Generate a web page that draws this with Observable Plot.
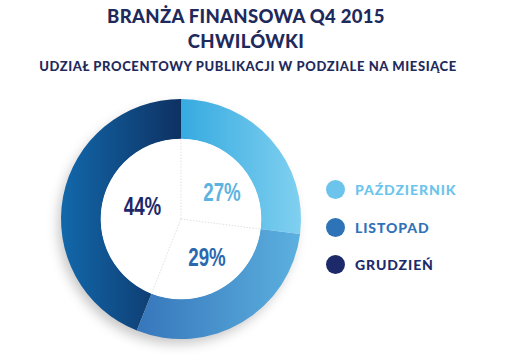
<!DOCTYPE html>
<html><head><meta charset="utf-8">
<script src="https://cdn.jsdelivr.net/npm/d3@7"></script>
<script src="https://cdn.jsdelivr.net/npm/@observablehq/plot@0.6"></script>
<style>
html,body{margin:0;padding:0;background:#fff;}
#page{position:relative;width:510px;height:357px;overflow:hidden;font-family:Lato,"DejaVu Sans",sans-serif;}
.t{position:absolute;left:0;width:510px;text-align:center;color:#1f2a5c;font-weight:900;white-space:nowrap;}
.t1{top:5px;font-size:18.5px;left:-9px;letter-spacing:0.3px;}
.t2{top:30px;font-size:18.5px;left:-9px;letter-spacing:0.3px;}
.t3{top:58px;font-size:13px;left:-7px;letter-spacing:0.6px;}
#chart{position:absolute;left:0;top:80px;}
.leg{position:absolute;left:326px;height:20px;display:flex;align-items:center;font-weight:900;font-size:14px;letter-spacing:0.9px;}
.leg span.dot{width:19px;height:19px;border-radius:50%;margin-right:10px;display:inline-block;}
</style></head>
<body>
<div id="page">
  <div class="t t1">BRANŻA FINANSOWA Q4 2015</div>
  <div class="t t2">CHWILÓWKI</div>
  <div class="t t3">UDZIAŁ PROCENTOWY PUBLIKACJI W PODZIALE NA MIESIĄCE</div>
  <div id="chart"></div>
  <div id="legend"></div>
</div>
<script>
// ---- data ----
const months = ["PAŹDZIERNIK", "LISTOPAD", "GRUDZIEŃ"];
const shares = [27, 29, 44];
const labels = ["27%", "29%", "44%"];
// ---- styles ----
const legendColors = ["#6cc4ec", "#2e72b8", "#1c2a6a"];
const labelColors = ["#5db3e0", "#2a68b0", "#1e2768"];
const gradStops = [["#36aae0", "#80d0f0"], ["#3676bb", "#5cb0df"], ["#1268ab", "#0e3162"]];
const labelNudge = [[0, -9], [-2, 8], [14, 3]]; // px tweaks (x right, y up)

const W = 510, H = 277, unit = 120, cxPx = 181, cyPx = 139;
const innerRatio = 80 / 120;

const data = months.map((m, i) => ({month: m, share: shares[i], label: labels[i], i}));
const arcs = d3.pie().sort(null).value(d => d.share)(data);
arcs.forEach((a, k) => {
  const mid = (a.startAngle + a.endAngle) / 2;
  a.data.lx = Math.sin(mid) * 0.45 + labelNudge[k][0] / unit;
  a.data.ly = Math.cos(mid) * 0.45 + labelNudge[k][1] / unit;
  a.data.color = labelColors[k];
});

function ring(index, scales) {
  const cx = scales.x(0), cy = scales.y(0);
  const R = Math.abs(scales.x(1) - scales.x(0));
  const r0 = R * innerRatio;
  const g = d3.create("svg:g");
  const defs = g.append("defs");
  gradStops.forEach((s, i) => {
    const lg = defs.append("linearGradient").attr("id", "grad" + i).attr("x1", 0).attr("x2", 1).attr("y1", 0).attr("y2", 0);
    lg.append("stop").attr("offset", "0%").attr("stop-color", s[0]);
    lg.append("stop").attr("offset", "100%").attr("stop-color", s[1]);
  });
  const f = defs.append("filter").attr("id", "shadow").attr("x", "-30%").attr("y", "-30%").attr("width", "160%").attr("height", "160%");
  f.append("feDropShadow").attr("dx", -4).attr("dy", 6).attr("stdDeviation", 6).attr("flood-color", "#000").attr("flood-opacity", 0.22);
  const arc = d3.arc().innerRadius(r0).outerRadius(R);
  const gg = g.append("g").attr("transform", `translate(${cx},${cy})`);
  gg.append("circle").attr("r", R - 1).attr("fill", "#fff").attr("filter", "url(#shadow)");
  gg.selectAll("path.seg").data(arcs).join("path").attr("class", "seg")
    .attr("d", arc).attr("fill", (d, i) => `url(#grad${i})`);
  gg.append("circle").attr("r", r0 + 0.3).attr("fill", "#fff");
  gg.selectAll("line").data(arcs).join("line")
    .attr("x1", 0).attr("y1", 0)
    .attr("x2", d => Math.sin(d.startAngle) * r0)
    .attr("y2", d => -Math.cos(d.startAngle) * r0)
    .attr("stroke", "#d8d8d8").attr("stroke-width", 0.8).attr("stroke-dasharray", "1.5,1.5");
  return g.node();
}

const chart = Plot.plot({
  width: W, height: H, margin: 0,
  x: {domain: [-cxPx / unit, (W - cxPx) / unit], axis: null},
  y: {domain: [-(H - cyPx) / unit, cyPx / unit], axis: null},
  color: {type: "identity"},
  marks: [
    ring,
    Plot.text(data, {x: "lx", y: "ly", text: "label", fill: "color", fontSize: 26, fontWeight: "bold",
      fontFamily: "'Liberation Sans',Arial,sans-serif", className: "pct"})
  ]
});
// condense the percentage labels horizontally
d3.select(chart).selectAll("text").each(function () {
  const t = this.getAttribute("transform");
  if (t) this.setAttribute("transform", t + " scale(0.72,1)");
  else {
    const x = +this.getAttribute("x") || 0, y = +this.getAttribute("y") || 0;
    this.setAttribute("transform", `translate(${x},${y}) scale(0.72,1)`);
    this.setAttribute("x", 0); this.setAttribute("y", 0);
  }
});
document.getElementById("chart").appendChild(chart);

const legendTops = [179, 217, 254];
const leg = document.getElementById("legend");
months.forEach((m, i) => {
  const div = document.createElement("div");
  div.className = "leg";
  div.style.top = legendTops[i] + "px";
  div.style.color = legendColors[i];
  div.innerHTML = `<span class="dot" style="background:${legendColors[i]}"></span>${m}`;
  leg.appendChild(div);
});
</script>
</body></html>
